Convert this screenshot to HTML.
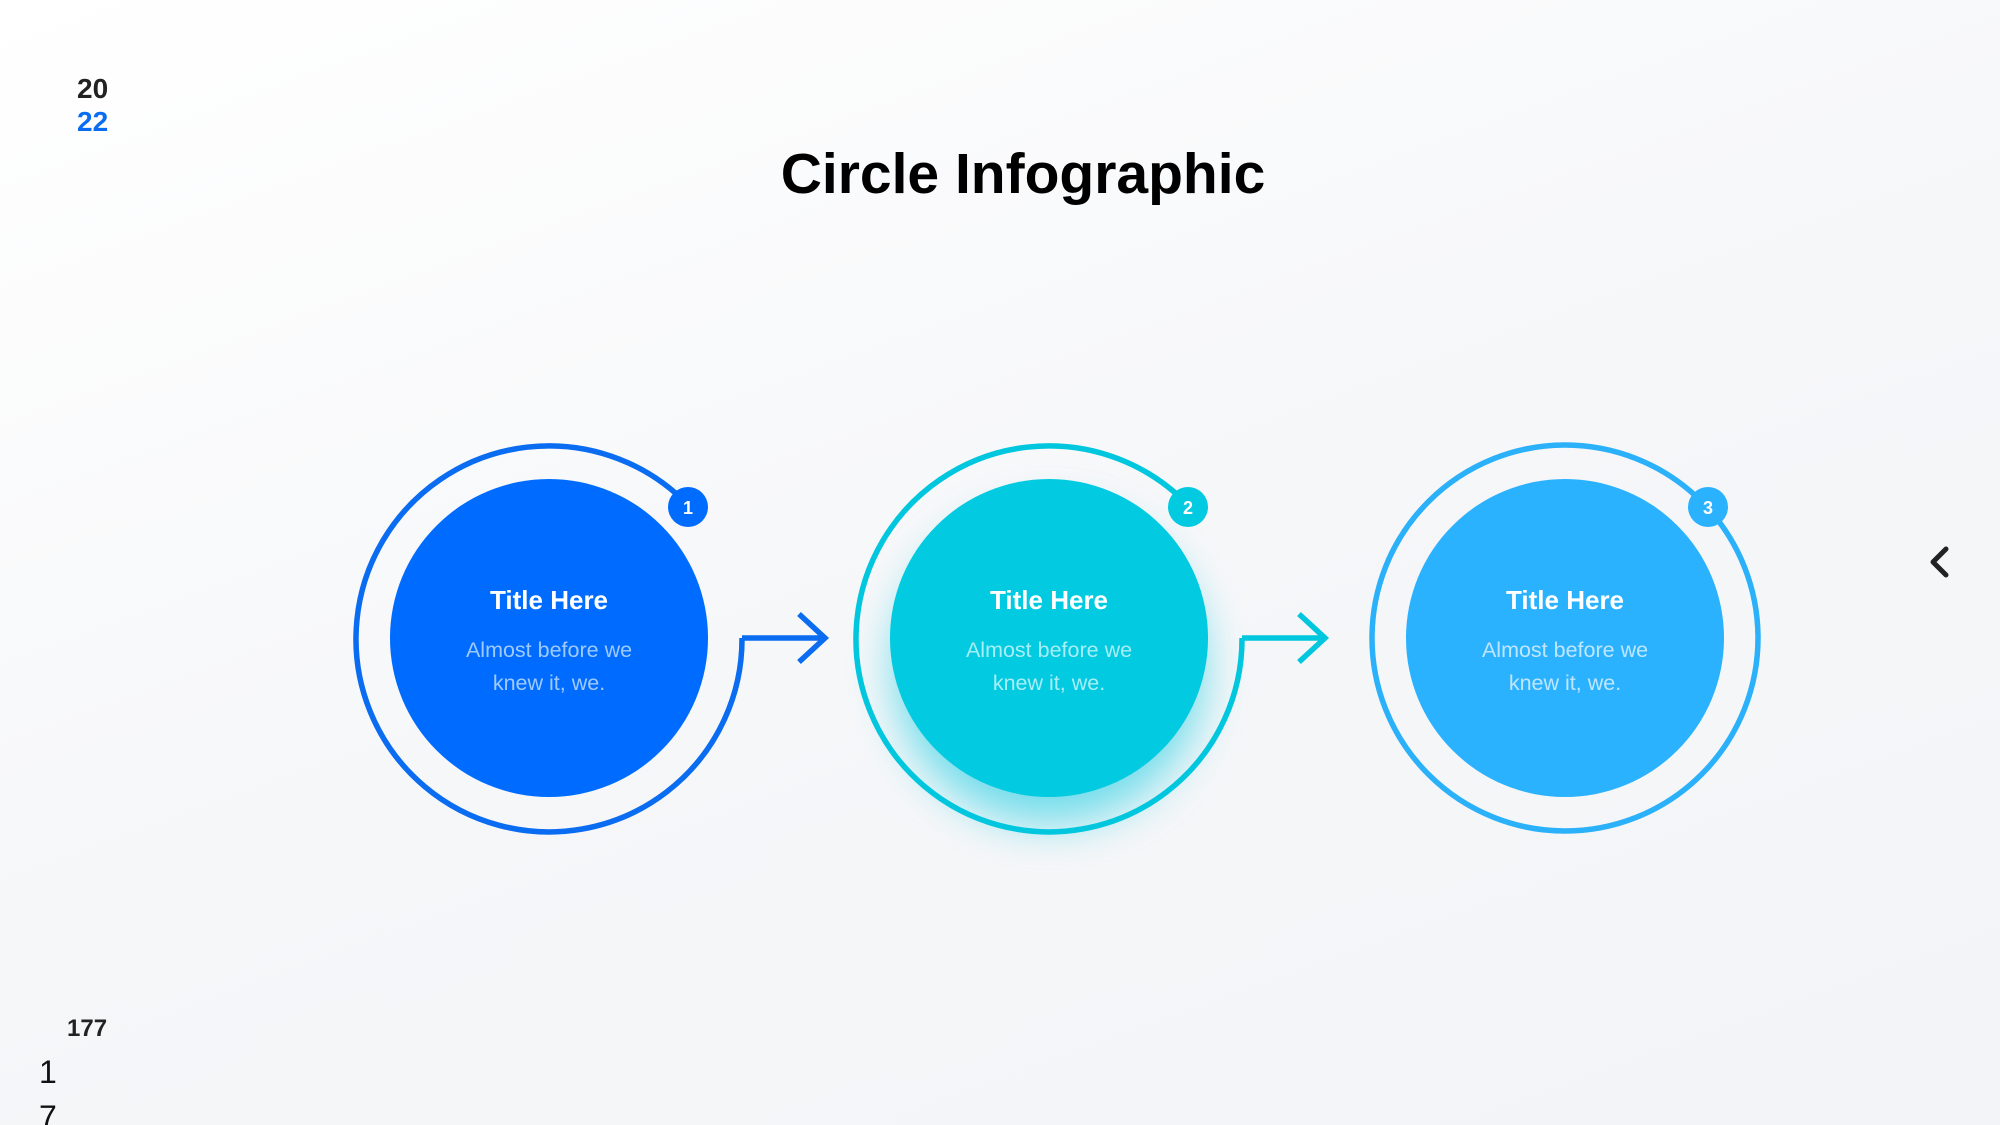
<!DOCTYPE html>
<html><head><meta charset="utf-8"><style>
html,body{margin:0;padding:0}
body{width:2000px;height:1125px;overflow:hidden;background:linear-gradient(160deg,#ffffff 0%,#f6f7f9 50%,#f2f4f7 100%);font-family:"Liberation Sans",sans-serif}
svg{position:absolute;left:0;top:0}
</style></head><body>
<svg width="2000" height="1125" viewBox="0 0 2000 1125">
<defs>
<filter id="glow" x="-50%" y="-50%" width="200%" height="200%"><feGaussianBlur stdDeviation="22"/></filter>
</defs>
<text x="77" y="98" font-size="28" font-weight="bold" fill="#222">20</text>
<text x="77" y="131" font-size="28" font-weight="bold" fill="#0a6cf0">22</text>
<text x="1023" y="193" font-size="57" font-weight="bold" fill="#000" text-anchor="middle">Circle Infographic</text>
<text x="67" y="1036" font-size="24" font-weight="bold" fill="#222">177</text>
<text x="39" y="1083" font-size="32" fill="#111">1</text>
<text x="39" y="1128" font-size="32" fill="#111">7</text>
<polyline points="1946,549 1933,562 1946,575" fill="none" stroke="#222" stroke-width="5" stroke-linecap="round" stroke-linejoin="round"/>

<g transform="translate(549,638)">
<path d="M193,0 A193,193 0 1 1 139,-133" fill="none" stroke="#0a6cf0" stroke-width="5.5"/>
<path d="M193,0 H276 M250,-24 L276,0 L250,24" fill="none" stroke="#0a6cf0" stroke-width="5.5"/>
<circle r="159" fill="#006cff"/>
<circle cx="139" cy="-131" r="20" fill="#006cff"/>
<text x="139" y="-124" font-size="18" font-weight="bold" fill="#fff" text-anchor="middle">1</text>
<text y="-29" font-size="26" font-weight="bold" fill="#fff" text-anchor="middle">Title Here</text>
<text y="19" font-size="21.5" fill="#a0caff" text-anchor="middle">Almost before we</text>
<text y="52" font-size="21.5" fill="#a0caff" text-anchor="middle">knew it, we.</text>
</g>

<g transform="translate(1049,638)">
<circle cx="0" cy="30" r="155" fill="#00c8e0" opacity="0.55" filter="url(#glow)"/>
<path d="M193,0 A193,193 0 1 1 139,-133" fill="none" stroke="#00c6de" stroke-width="5.5"/>
<path d="M193,0 H276 M250,-24 L276,0 L250,24" fill="none" stroke="#00c6de" stroke-width="5.5"/>
<circle r="159" fill="#02cae0"/>
<circle cx="139" cy="-131" r="20" fill="#02cae0"/>
<text x="139" y="-124" font-size="18" font-weight="bold" fill="#fff" text-anchor="middle">2</text>
<text y="-29" font-size="26" font-weight="bold" fill="#fff" text-anchor="middle">Title Here</text>
<text y="19" font-size="21.5" fill="#a8eef6" text-anchor="middle">Almost before we</text>
<text y="52" font-size="21.5" fill="#a8eef6" text-anchor="middle">knew it, we.</text>
</g>

<g transform="translate(1565,638)">
<circle r="193" fill="none" stroke="#2bb0fa" stroke-width="5.5"/>
<circle r="159" fill="#2bb2ff"/>
<circle cx="143" cy="-131" r="20" fill="#2bb2ff"/>
<text x="143" y="-124" font-size="18" font-weight="bold" fill="#fff" text-anchor="middle">3</text>
<text y="-29" font-size="26" font-weight="bold" fill="#fff" text-anchor="middle">Title Here</text>
<text y="19" font-size="21.5" fill="#bfe6ff" text-anchor="middle">Almost before we</text>
<text y="52" font-size="21.5" fill="#bfe6ff" text-anchor="middle">knew it, we.</text>
</g>
</svg>
</body></html>
